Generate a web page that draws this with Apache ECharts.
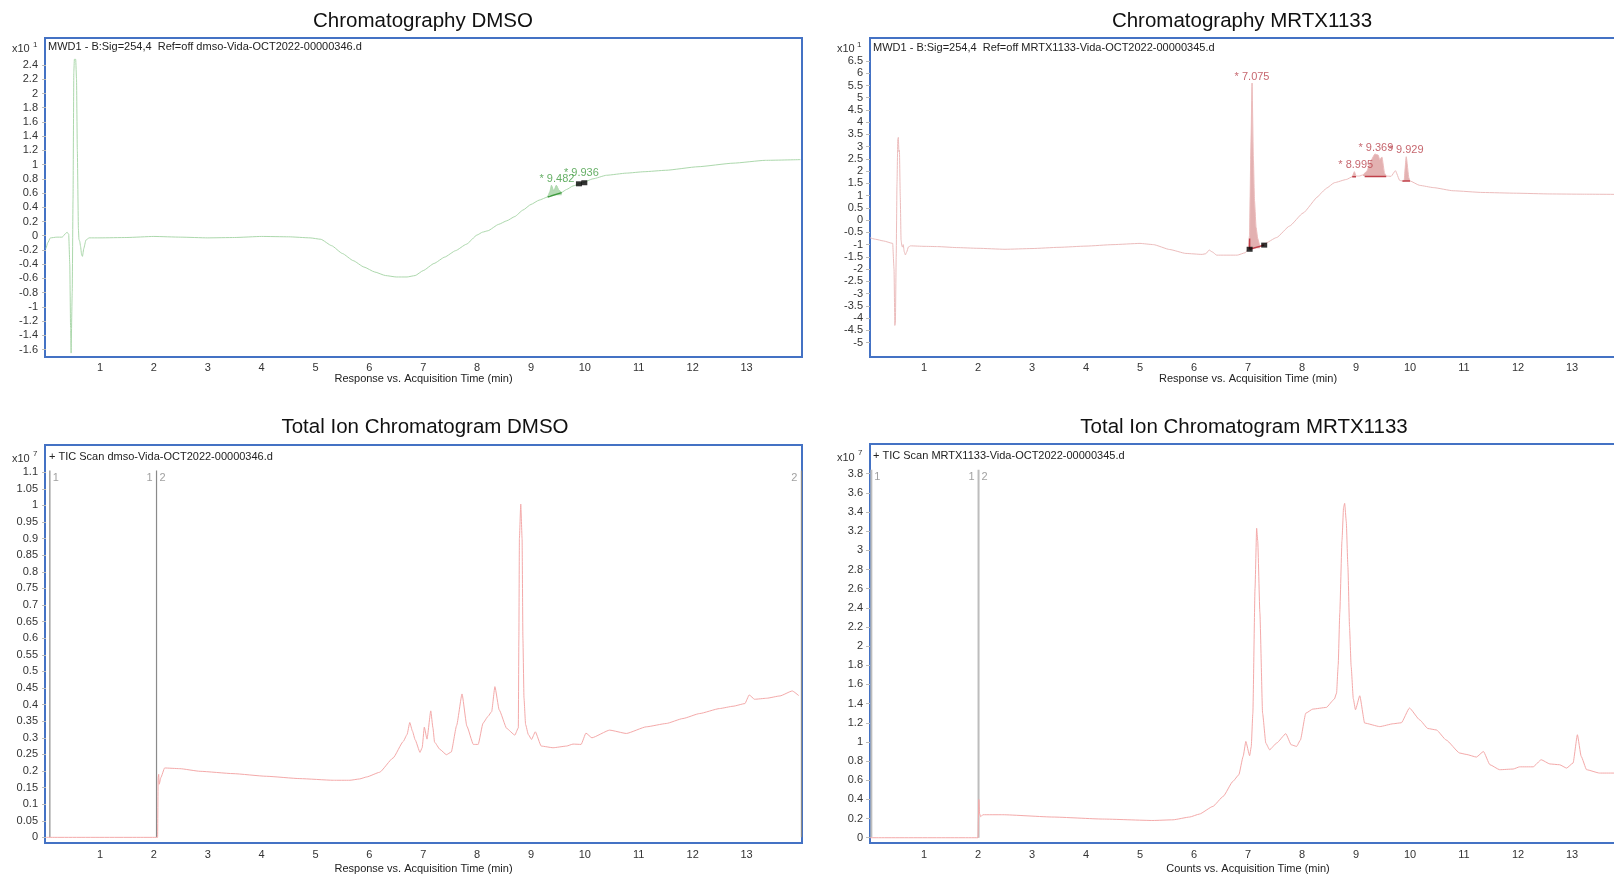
<!DOCTYPE html>
<html><head><meta charset="utf-8">
<script src="https://cdn.jsdelivr.net/npm/echarts@6.0.0/dist/echarts.min.js"></script>
<style>html,body{margin:0;padding:0;overflow:hidden;background:#fff}#c{width:1640px;height:876px}</style>
</head><body><div id="c"></div>
<script>
// ---------- DATA ----------
const xTickValues = [1,2,3,4,5,6,7,8,9,10,11,12,13];
const uvDmsoYTicks = [-1.6,-1.4,-1.2,-1,-0.8,-0.6,-0.4,-0.2,0,0.2,0.4,0.6,0.8,1,1.2,1.4,1.6,1.8,2,2.2,2.4];
const uvMrtxYTicks = [-5,-4.5,-4,-3.5,-3,-2.5,-2,-1.5,-1,-0.5,0,0.5,1,1.5,2,2.5,3,3.5,4,4.5,5,5.5,6,6.5];
const ticDmsoYTicks = [0,0.05,0.1,0.15,0.2,0.25,0.3,0.35,0.4,0.45,0.5,0.55,0.6,0.65,0.7,0.75,0.8,0.85,0.9,0.95,1,1.05,1.1];
const ticMrtxYTicks = [0,0.2,0.4,0.6,0.8,1,1.2,1.4,1.6,1.8,2,2.2,2.4,2.6,2.8,3,3.2,3.4,3.6,3.8];

// UV 254 nm, DMSO (x10^1)
const uvDmso = [[0.00,-0.18],[0.03,-0.10],[0.08,-0.03],[0.20,-0.02],[0.30,-0.02],[0.36,0.03],[0.39,0.05],[0.42,0.02],[0.44,-0.4],[0.455,-1.3],[0.465,-1.65],[0.475,-1.65],[0.485,-0.8],[0.50,0.5],[0.515,2.3],[0.525,2.48],[0.55,2.48],[0.565,2.2],[0.58,1.2],[0.60,0.1],[0.61,-0.05],[0.625,-0.08],[0.64,-0.15],[0.66,-0.27],[0.675,-0.29],[0.70,-0.18],[0.74,-0.06],[0.80,-0.03],[1.0,-0.03],[1.5,-0.025],[2.0,-0.01],[2.5,-0.02],[3.0,-0.03],[3.5,-0.025],[4.0,-0.01],[4.5,-0.015],[4.9,-0.03],[5.1,-0.05],[5.3,-0.14],[5.5,-0.25],[5.7,-0.35],[5.9,-0.44],[6.1,-0.51],[6.3,-0.56],[6.5,-0.58],[6.7,-0.58],[6.85,-0.56],[7.0,-0.49],[7.2,-0.39],[7.4,-0.30],[7.6,-0.21],[7.8,-0.12],[8.0,0.01],[8.1,0.05],[8.2,0.07],[8.4,0.16],[8.55,0.21],[8.7,0.27],[8.85,0.36],[9.0,0.44],[9.15,0.50],[9.31,0.545],[9.35,0.62],[9.38,0.71],[9.42,0.63],[9.44,0.66],[9.47,0.71],[9.52,0.64],[9.57,0.61],[9.66,0.65],[9.78,0.70],[9.94,0.74],[10.15,0.80],[10.4,0.85],[10.77,0.88],[11.1,0.90],[11.5,0.92],[12.1,0.97],[12.75,1.02],[13.35,1.06],[14.0,1.07]];
const uvDmsoPeakRT = [9.482, 9.936];
const uvDmsoPeakApex = [0.71, 0.79];
const uvDmsoFillStart = [9.31];
const uvDmsoFillEnd = [9.57];
const uvDmsoFillBase = [0.57];
const uvDmsoBaselines = [[[9.31,0.545],[9.57,0.606]]];
const uvDmsoMarkers = [[9.89,0.73],[9.99,0.745]];

// UV 254 nm, MRTX1133 (x10^1)
const uvMrtx = [[0.0,-0.72],[0.1,-0.78],[0.25,-0.85],[0.42,-0.95],[0.445,-2.0],[0.46,-4.3],[0.47,-4.2],[0.485,-1.5],[0.50,1.5],[0.515,3.3],[0.525,3.38],[0.535,2.8],[0.545,2.85],[0.56,1.0],[0.575,-0.8],[0.59,-1.05],[0.60,-1.1],[0.615,-1.0],[0.635,-1.3],[0.655,-1.42],[0.68,-1.3],[0.71,-1.1],[0.75,-1.05],[1.0,-1.07],[1.25,-1.08],[1.6,-1.12],[2.0,-1.15],[2.5,-1.19],[3.0,-1.16],[3.5,-1.11],[4.0,-1.06],[4.5,-1.0],[5.0,-0.95],[5.25,-1.0],[5.55,-1.2],[5.85,-1.36],[6.15,-1.4],[6.22,-1.37],[6.28,-1.22],[6.34,-1.3],[6.42,-1.43],[6.8,-1.43],[6.95,-1.33],[7.0,-1.2],[7.03,-0.6],[7.05,2.5],[7.075,5.6],[7.1,2.5],[7.12,0.8],[7.15,-0.3],[7.18,-0.75],[7.22,-1.05],[7.3,-0.97],[7.53,-0.71],[7.77,-0.24],[8.02,0.29],[8.3,0.97],[8.36,1.12],[8.45,1.3],[8.6,1.53],[8.82,1.66],[8.93,1.77],[8.97,1.98],[9.0,1.8],[9.06,1.8],[9.13,1.85],[9.2,2.0],[9.28,2.45],[9.35,2.7],[9.41,2.66],[9.44,2.47],[9.48,2.58],[9.53,1.91],[9.56,1.8],[9.65,1.79],[9.73,2.02],[9.81,1.62],[9.89,1.59],[9.93,2.59],[9.98,1.72],[10.0,1.6],[10.18,1.42],[10.43,1.33],[10.8,1.2],[11.35,1.13],[11.97,1.1],[12.59,1.07],[13.2,1.06],[14.0,1.05]];
const uvMrtxPeakRT = [7.075, 8.995, 9.369, 9.929];
const uvMrtxPeakApex = [5.6, 1.98, 2.7, 2.59];
const uvMrtxFillStart = [7.03, 8.93, 9.13, 9.89];
const uvMrtxFillEnd = [7.22, 9.0, 9.56, 10.0];
const uvMrtxFillBase = [-1.15, 1.77, 1.8, 1.6];
const uvMrtxBaselines = [[[7.03,-1.19],[7.3,-1.02]],[[7.03,-1.19],[7.03,-0.75]],[[8.93,1.77],[9.0,1.77]],[[9.16,1.78],[9.56,1.78]],[[9.86,1.6],[10.0,1.6]]];
const uvMrtxMarkers = [[7.03,-1.19],[7.3,-1.02]];

// Total ion chromatograms (x10^7)
const ticDmso = [[0.0,0.0],[2.05,0.0],[2.07,0.0],[2.08,0.18],[2.09,0.19],[2.1,0.16],[2.13,0.18],[2.2,0.209],[2.48,0.207],[2.86,0.199],[3.47,0.192],[4.09,0.184],[4.71,0.177],[5.33,0.172],[5.64,0.172],[5.82,0.176],[5.95,0.182],[6.19,0.196],[6.44,0.239],[6.63,0.289],[6.70,0.31],[6.75,0.346],[6.80,0.32],[6.85,0.294],[6.94,0.256],[6.98,0.27],[7.02,0.332],[7.07,0.296],[7.14,0.381],[7.18,0.33],[7.21,0.287],[7.31,0.265],[7.43,0.249],[7.52,0.257],[7.62,0.337],[7.72,0.432],[7.81,0.335],[7.93,0.28],[8.02,0.28],[8.11,0.344],[8.2,0.364],[8.27,0.379],[8.33,0.454],[8.41,0.384],[8.55,0.328],[8.7,0.308],[8.765,0.33],[8.775,0.6],[8.785,0.9],[8.81,1.004],[8.835,0.9],[8.85,0.6],[8.87,0.42],[8.9,0.34],[8.95,0.31],[9.01,0.295],[9.08,0.318],[9.19,0.275],[9.41,0.27],[9.66,0.275],[9.78,0.281],[9.93,0.28],[10.02,0.314],[10.13,0.3],[10.46,0.323],[10.77,0.313],[11.14,0.333],[11.51,0.343],[11.82,0.358],[12.13,0.373],[12.5,0.388],[12.75,0.395],[12.97,0.403],[13.05,0.429],[13.15,0.416],[13.37,0.419],[13.62,0.426],[13.85,0.441],[13.97,0.427]];
const ticMrtx = [[0.0,0.0],[2.0,0.0],[2.01,0.0],[2.015,0.4],[2.03,0.25],[2.05,0.22],[2.09,0.24],[2.46,0.24],[3.39,0.216],[4.31,0.195],[5.24,0.18],[5.61,0.187],[5.92,0.216],[6.1,0.247],[6.35,0.327],[6.54,0.431],[6.72,0.588],[6.83,0.657],[6.91,0.849],[6.96,1.005],[7.03,0.856],[7.06,0.95],[7.09,1.3],[7.13,2.6],[7.16,3.23],[7.18,3.1],[7.22,2.35],[7.27,1.3],[7.33,0.988],[7.4,0.918],[7.53,0.988],[7.7,1.086],[7.8,0.97],[7.9,0.953],[7.97,1.02],[8.07,1.3],[8.2,1.343],[8.45,1.36],[8.6,1.448],[8.64,1.51],[8.67,1.8],[8.70,2.35],[8.74,3.1],[8.77,3.45],[8.79,3.49],[8.82,3.3],[8.85,2.83],[8.88,2.2],[8.91,1.79],[8.95,1.45],[8.99,1.336],[9.07,1.482],[9.16,1.197],[9.44,1.16],[9.69,1.19],[9.84,1.2],[9.99,1.354],[10.18,1.23],[10.33,1.14],[10.49,1.125],[10.67,1.02],[10.92,0.884],[11.04,0.87],[11.23,0.842],[11.36,0.9],[11.48,0.762],[11.66,0.71],[11.91,0.717],[12.03,0.74],[12.28,0.74],[12.43,0.814],[12.59,0.77],[12.77,0.762],[12.9,0.727],[13.02,0.78],[13.1,1.075],[13.17,0.85],[13.27,0.71],[13.51,0.675],[13.76,0.675],[14.0,0.67]];
const ticDmsoSegmentTimes = [0.07, 2.05, 14.02];
const ticDmsoSegmentLabels = [['', '1'], ['1', '2'], ['2', '']];
const ticDmsoMarkerTop = 1.105;
const ticMrtxSegmentTimes = [0.025, 2.01];
const ticMrtxSegmentLabels = [['', '1'], ['1', '2']];
const ticMrtxMarkerTop = 3.84;

// ---------- CHART ----------
const FONT = '"Liberation Sans", Arial, Helvetica, sans-serif';
const chart = echarts.init(document.getElementById('c'), null, {renderer: 'canvas'});

const grids = [
  {left: 45, top: 38, width: 757, height: 319},
  {left: 870, top: 38, width: 756, height: 319},
  {left: 45, top: 445, width: 757, height: 398},
  {left: 870, top: 444, width: 756, height: 399}
].map(g => Object.assign(g, {show: true, borderColor: '#4472c4', borderWidth: 2, backgroundColor: '#fff', containLabel: false}));

const xRanges = [[-0.02, 14.03], [0, 14], [-0.02, 14.03], [0, 14]];
const xNames = ['Response vs. Acquisition Time (min)', 'Response vs. Acquisition Time (min)', 'Response vs. Acquisition Time (min)', 'Counts vs. Acquisition Time (min)'];
const xNameGaps = [15, 15, 20, 20];
const xLabelMargins = [5, 5, 6, 6];
const xAxes = xRanges.map((r, i) => ({
  type: 'value', gridIndex: i, min: r[0], max: r[1],
  name: xNames[i], nameLocation: 'middle', nameGap: xNameGaps[i],
  nameTextStyle: {fontSize: 11, color: '#222', fontFamily: FONT},
  axisLine: {show: false}, splitLine: {show: false},
  axisTick: {show: false},
  axisLabel: {customValues: xTickValues, fontSize: 11, color: '#333', fontFamily: FONT, margin: xLabelMargins[i]}
}));

const yRanges = [[-1.705, 2.78], [-5.59, 7.44], [-0.017, 1.182], [-0.055, 4.11]];
const yTicks = [uvDmsoYTicks, uvMrtxYTicks, ticDmsoYTicks, ticMrtxYTicks];
const yAxes = yRanges.map((r, i) => ({
  type: 'value', gridIndex: i, min: r[0], max: r[1],
  axisLine: {show: false}, splitLine: {show: false},
  axisTick: {show: true, customValues: yTicks[i], length: 4, lineStyle: {color: '#bbb', width: 1}},
  axisLabel: {customValues: yTicks[i], fontSize: 11, color: '#333', fontFamily: FONT, margin: 7}
}));

const series = [];
function addLine(gi, data, color, width, z, smooth) {
  series.push({type: 'line', xAxisIndex: gi, yAxisIndex: gi, data: data, symbol: 'none', showSymbol: false,
    smooth: smooth || false, smoothMonotone: 'x',
    lineStyle: {color: color, width: width}, silent: true, z: z || 3, animation: false});
}
function addFills(gi, data, starts, ends, bases, color) {
  starts.forEach((s, k) => {
    series.push({type: 'line', xAxisIndex: gi, yAxisIndex: gi,
      data: data.filter(p => p[0] >= s && p[0] <= ends[k]), symbol: 'none', showSymbol: false,
      smooth: 0.15, smoothMonotone: 'x',
      lineStyle: {width: 0}, areaStyle: {color: color, origin: bases[k], opacity: 1}, z: 2, silent: true, animation: false});
  });
}
function addBaselines(gi, lines, color) {
  lines.forEach(l => addLine(gi, l, color, 1.5, 4));
}
function addMarkers(gi, pts) {
  series.push({type: 'scatter', xAxisIndex: gi, yAxisIndex: gi, data: pts, symbol: 'rect', symbolSize: [6, 5],
    itemStyle: {color: '#000'}, z: 6, silent: true, animation: false});
}
function addPeakLabels(gi, rts, apex, color) {
  series.push({type: 'scatter', xAxisIndex: gi, yAxisIndex: gi, symbolSize: 0,
    data: rts.map((rt, k) => [rt, apex[k]]),
    label: {show: true, position: 'top', distance: 1, color: color, fontSize: 11, fontFamily: FONT,
      formatter: p => '* ' + p.value[0].toFixed(3)},
    z: 7, silent: true, animation: false});
}
function addSegments(gi, times, labels, top, lineColor, lineWidth) {
  times.forEach((t, k) => {
    addLine(gi, [[t, 0], [t, top]], lineColor, lineWidth, 1);
  });
  const items = [];
  times.forEach((t, k) => {
    if (labels[k][0]) items.push({value: [t, top], label: {position: 'left', distance: 4}, name: labels[k][0]});
    if (labels[k][1]) items.push({value: [t, top], label: {position: 'right', distance: 3}, name: labels[k][1]});
  });
  series.push({type: 'scatter', xAxisIndex: gi, yAxisIndex: gi, symbolSize: 0, data: items,
    label: {show: true, color: '#888', fontSize: 11, fontFamily: FONT, offset: [0, 7], formatter: p => p.name},
    z: 7, silent: true, animation: false});
}

// Panel 1: UV DMSO
addFills(0, uvDmso, uvDmsoFillStart, uvDmsoFillEnd, uvDmsoFillBase, 'rgba(120,190,120,0.55)');
addLine(0, uvDmso, '#acd8ac', 1, 3, 0.15);
addBaselines(0, uvDmsoBaselines, '#3f9b3f');
addMarkers(0, uvDmsoMarkers);
addPeakLabels(0, uvDmsoPeakRT, uvDmsoPeakApex, '#3f9b3f');

// Panel 2: UV MRTX1133
addFills(1, uvMrtx, uvMrtxFillStart, uvMrtxFillEnd, uvMrtxFillBase, 'rgba(200,100,100,0.5)');
addLine(1, uvMrtx, '#ecbcbc', 1, 3, 0.15);
addBaselines(1, uvMrtxBaselines, '#c0404a');
addMarkers(1, uvMrtxMarkers);
addPeakLabels(1, uvMrtxPeakRT, uvMrtxPeakApex, '#b8404a');

// Panel 3: TIC DMSO
addSegments(2, ticDmsoSegmentTimes, ticDmsoSegmentLabels, ticDmsoMarkerTop, '#8a8a8a', 1.2);
addLine(2, ticDmso, '#f4a9a9', 1, 3, 0.15);

// Panel 4: TIC MRTX1133
addSegments(3, ticMrtxSegmentTimes, ticMrtxSegmentLabels, ticMrtxMarkerTop, '#bdbdbd', 2);
addLine(3, ticMrtx, '#f4a9a9', 1, 3, 0.15);

function txt(x, y, text, size, color, align) {
  return {type: 'text', x: x, y: y, z: 10, silent: true,
    style: {text: text, fontSize: size, fontFamily: FONT, fill: color,
      align: align || 'left', textAlign: align || 'left', verticalAlign: 'middle', textVerticalAlign: 'middle'}};
}
const graphic = [
  txt(423, 21, 'Chromatography DMSO', 20.5, '#111', 'center'),
  txt(1242, 21, 'Chromatography MRTX1133', 20.5, '#111', 'center'),
  txt(425, 427, 'Total Ion Chromatogram DMSO', 20.5, '#111', 'center'),
  txt(1244, 427, 'Total Ion Chromatogram MRTX1133', 20.5, '#111', 'center'),
  txt(48, 47, 'MWD1 - B:Sig=254,4  Ref=off dmso-Vida-OCT2022-00000346.d', 11, '#222'),
  txt(873, 48, 'MWD1 - B:Sig=254,4  Ref=off MRTX1133-Vida-OCT2022-00000345.d', 11, '#222'),
  txt(49, 457, '+ TIC Scan dmso-Vida-OCT2022-00000346.d', 11, '#222'),
  txt(873, 456, '+ TIC Scan MRTX1133-Vida-OCT2022-00000345.d', 11, '#222'),
  txt(12, 49, 'x10', 11, '#333'), txt(33, 45, '1', 8, '#333'),
  txt(837, 49, 'x10', 11, '#333'), txt(857, 45, '1', 8, '#333'),
  txt(12, 459, 'x10', 11, '#333'), txt(33, 454, '7', 8, '#333'),
  txt(837, 458, 'x10', 11, '#333'), txt(858, 453, '7', 8, '#333')
];

chart.setOption({
  animation: false,
  backgroundColor: '#fff',
  grid: grids,
  xAxis: xAxes,
  yAxis: yAxes,
  series: series,
  graphic: graphic
});
</script></body></html>
